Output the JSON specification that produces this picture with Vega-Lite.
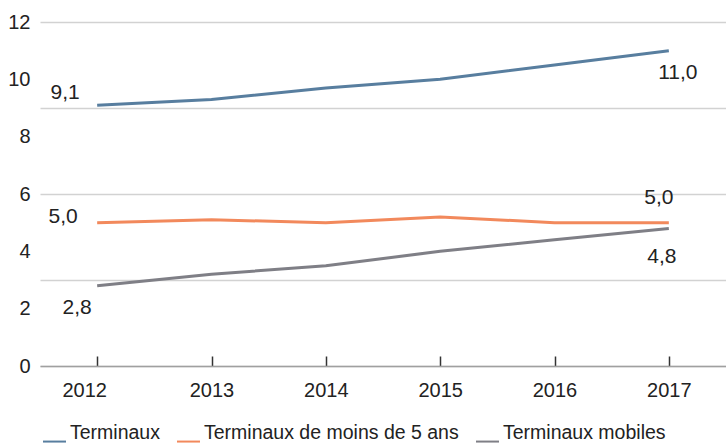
{
  "$schema": "https://vega.github.io/schema/vega-lite/v6.json",
  "width": 686,
  "height": 344,
  "autosize": {"type": "none"},
  "padding": {"left": 40, "top": 22, "right": 0, "bottom": 78},
  "background": "white",
  "config": {
    "view": {"stroke": null},
    "font": "Liberation Sans",
    "locale": {"number": {"decimal": ",", "thousands": " ", "grouping": [3], "currency": ["", " €"]}},
    "axisX": {
      "title": null, "labelAngle": 0, "grid": false,
      "domainColor": "#a0a0a0", "domainWidth": 1.5,
      "tickColor": "#333333", "tickWidth": 1.5, "tickSize": -10,
      "labelFontSize": 20, "labelColor": "#222222", "labelPadding": 24
    }
  },
  "data": {
    "values": [
      {"year": "2012", "series": "Terminaux", "value": 9.1},
      {"year": "2013", "series": "Terminaux", "value": 9.3},
      {"year": "2014", "series": "Terminaux", "value": 9.7},
      {"year": "2015", "series": "Terminaux", "value": 10.0},
      {"year": "2016", "series": "Terminaux", "value": 10.5},
      {"year": "2017", "series": "Terminaux", "value": 11.0},
      {"year": "2012", "series": "Terminaux de moins de 5 ans", "value": 5.0},
      {"year": "2013", "series": "Terminaux de moins de 5 ans", "value": 5.1},
      {"year": "2014", "series": "Terminaux de moins de 5 ans", "value": 5.0},
      {"year": "2015", "series": "Terminaux de moins de 5 ans", "value": 5.2},
      {"year": "2016", "series": "Terminaux de moins de 5 ans", "value": 5.0},
      {"year": "2017", "series": "Terminaux de moins de 5 ans", "value": 5.0},
      {"year": "2012", "series": "Terminaux mobiles", "value": 2.8},
      {"year": "2013", "series": "Terminaux mobiles", "value": 3.2},
      {"year": "2014", "series": "Terminaux mobiles", "value": 3.5},
      {"year": "2015", "series": "Terminaux mobiles", "value": 4.0},
      {"year": "2016", "series": "Terminaux mobiles", "value": 4.4},
      {"year": "2017", "series": "Terminaux mobiles", "value": 4.8}
    ]
  },
  "layer": [
    {
      "mark": {"type": "point", "opacity": 0},
      "encoding": {
        "x": {
          "field": "year", "type": "ordinal", "scale": {"type": "point", "padding": 0.5},
          "axis": {"labelOffset": {"condition": {"test": "datum.value == '2012'", "value": -13}, "value": 0}}
        },
        "y": {
          "field": "value", "type": "quantitative",
          "scale": {"domain": [0, 12], "nice": false, "zero": true},
          "axis": {"orient": "right", "values": [0, 3, 6, 9, 12], "grid": true, "gridColor": "#d2d2d2", "gridWidth": 1.5, "labels": false, "ticks": false, "domain": false, "title": null}
        }
      }
    },
    {
      "encoding": {
        "x": {
          "field": "year", "type": "ordinal", "scale": {"type": "point", "padding": 0.5},
          "axis": {"labelOffset": {"condition": {"test": "datum.value == '2012'", "value": -13}, "value": 0}}
        },
        "y": {
          "field": "value", "type": "quantitative",
          "scale": {"domain": [0, 12], "nice": false},
          "axis": {"values": [0, 2, 4, 6, 8, 10, 12], "grid": false, "ticks": false, "domain": false, "title": null, "labelFontSize": 20, "labelColor": "#222222", "labelPadding": 10}
        }
      },
      "layer": [
        {
          "mark": {"type": "line", "strokeWidth": 3},
          "encoding": {
            "color": {
              "field": "series", "type": "nominal",
              "scale": {"domain": ["Terminaux", "Terminaux de moins de 5 ans", "Terminaux mobiles"], "range": ["#587e9f", "#f2895c", "#7f7f86"]},
              "legend": {
                "title": null, "orient": "none", "legendX": 2, "legendY": 398, "direction": "horizontal",
                "symbolType": "M-1,0.75L1,0.75", "symbolSize": 529, "symbolStrokeWidth": 2,
                "labelFontSize": 19.5, "labelColor": "#222222", "labelOffset": 3, "labelLimit": 400,
                "columnPadding": 13, "padding": 0
              }
            }
          }
        },
        {
          "transform": [{"filter": "datum.series == 'Terminaux' && datum.year == '2012'"}],
          "mark": {"type": "text", "fontSize": 21, "color": "#222222", "dx": -32, "dy": -12},
          "encoding": {"text": {"field": "value", "type": "quantitative", "format": ".1f"}}
        },
        {
          "transform": [{"filter": "datum.series == 'Terminaux' && datum.year == '2017'"}],
          "mark": {"type": "text", "fontSize": 21, "color": "#222222", "dx": 9, "dy": 22},
          "encoding": {"text": {"field": "value", "type": "quantitative", "format": ".1f"}}
        },
        {
          "transform": [{"filter": "datum.series == 'Terminaux de moins de 5 ans' && datum.year == '2012'"}],
          "mark": {"type": "text", "fontSize": 21, "color": "#222222", "dx": -34, "dy": -6},
          "encoding": {"text": {"field": "value", "type": "quantitative", "format": ".1f"}}
        },
        {
          "transform": [{"filter": "datum.series == 'Terminaux de moins de 5 ans' && datum.year == '2017'"}],
          "mark": {"type": "text", "fontSize": 21, "color": "#222222", "dx": -10, "dy": -25},
          "encoding": {"text": {"field": "value", "type": "quantitative", "format": ".1f"}}
        },
        {
          "transform": [{"filter": "datum.series == 'Terminaux mobiles' && datum.year == '2012'"}],
          "mark": {"type": "text", "fontSize": 21, "color": "#222222", "dx": -20, "dy": 22},
          "encoding": {"text": {"field": "value", "type": "quantitative", "format": ".1f"}}
        },
        {
          "transform": [{"filter": "datum.series == 'Terminaux mobiles' && datum.year == '2017'"}],
          "mark": {"type": "text", "fontSize": 21, "color": "#222222", "dx": -7, "dy": 29},
          "encoding": {"text": {"field": "value", "type": "quantitative", "format": ".1f"}}
        }
      ]
    }
  ],
  "resolve": {"scale": {"y": "independent"}}
}
